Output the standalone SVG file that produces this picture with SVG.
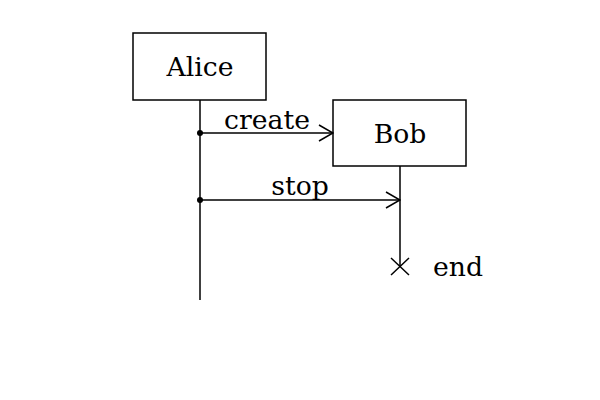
<svg xmlns="http://www.w3.org/2000/svg" width="600" height="400" viewBox="0 0 600 400">
<style>
.box{fill:#fff;stroke:#000;stroke-width:1.5}
.ln{stroke:#000;stroke-width:1.5;fill:none}
text{font-family:"DejaVu Serif",serif;font-size:26.67px;fill:#000}
</style>
<defs>
<marker id="arr" markerWidth="16" markerHeight="18" refX="15" refY="9" orient="auto" markerUnits="userSpaceOnUse">
<path d="M1,1 L15,9 L1,17" fill="none" stroke="#000" stroke-width="1.5"/>
</marker>
</defs>
<rect width="600" height="400" fill="#fff"/>
<g id="lifelines">
<line class="ln" x1="200" y1="100" x2="200" y2="300"/>
<line class="ln" x1="400" y1="166" x2="400" y2="266"/>
</g>
<g id="alice"><rect class="box" x="133" y="33" width="133" height="67"/><text x="200" y="76" text-anchor="middle">Alice</text></g>
<g id="bob"><rect class="box" x="333" y="100" width="133" height="66"/><text x="400" y="143" text-anchor="middle">Bob</text></g>
<g id="connectors">
<circle cx="200" cy="133" r="3"/>
<line class="ln" x1="200" y1="133" x2="333" y2="133" marker-end="url(#arr)"/>
<text x="267" y="129" text-anchor="middle">create</text>
<circle cx="200" cy="200" r="3"/>
<line class="ln" x1="200" y1="200" x2="400" y2="200" marker-end="url(#arr)"/>
<text x="300" y="195" text-anchor="middle">stop</text>
</g>
<g id="end">
<path class="ln" d="M391,258 L409,275 M409,258 L391,275"/>
<text x="433" y="276">end</text>
</g>
</svg>
